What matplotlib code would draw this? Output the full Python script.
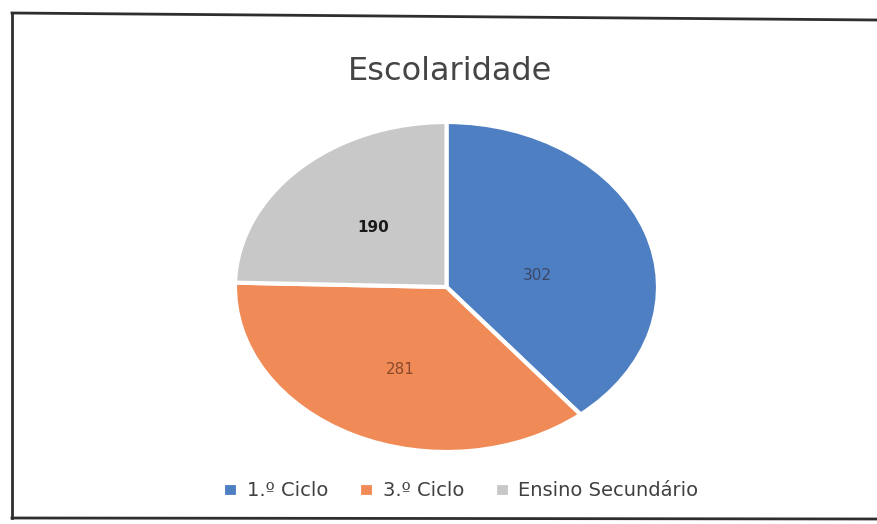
import matplotlib.pyplot as plt
from matplotlib.lines import Line2D

categorias = ['1.º Ciclo', '3.º Ciclo', 'Ensino Secundário']
valores = [302, 281, 190]
cores = ['#4d7fc2', '#f08a56', '#c8c8c8']
cores_txt = ['#3b4766', '#8a4a2c', '#1a1a1a']

W, H = 877, 524
fig = plt.figure(figsize=(W / 100, H / 100), dpi=100)

# moldura (o lado direito fica fora da digitalizacao)
for xs, ys in [([12, 12], [13, 518]), ([12, 877], [13, 20]), ([12, 877], [518, 519])]:
    fig.add_artist(Line2D([x / W for x in xs], [1 - y / H for y in ys],
                          color='#2e2e2e', lw=2))

fig.text(450 / W, 1 - 72 / H, 'Escolaridade', ha='center', va='center',
         fontsize=23, color='#454545')

# pizza eliptica: eixo com aspecto livre
ax = fig.add_axes([235 / W, 1 - 452 / H, 423 / W, 330 / H])
total = sum(valores)
wedges, _, autotexts = ax.pie(
    valores, colors=cores, startangle=90, counterclock=False,
    autopct=lambda p: f'{round(p * total / 100)}', pctdistance=0.5,
    wedgeprops=dict(edgecolor='white', linewidth=3),
    textprops=dict(fontsize=11))
for t, c in zip(autotexts, cores_txt):
    t.set_color(c)
autotexts[0].set_position((0.43, 0.07))
autotexts[1].set_position((-0.22, -0.50))
autotexts[2].set_fontweight('bold')
ax.set_aspect('auto')
ax.set_xlim(-1, 1)
ax.set_ylim(-1, 1)
ax.axis('off')

fig.legend(wedges, categorias, loc='center', bbox_to_anchor=(461 / W, 1 - 491 / H),
           ncol=3, frameon=False, fontsize=14, handlelength=0.75, handleheight=0.75,
           handletextpad=0.45, columnspacing=1.6, labelcolor='#404040')

fig.savefig('out.png', dpi=100)
